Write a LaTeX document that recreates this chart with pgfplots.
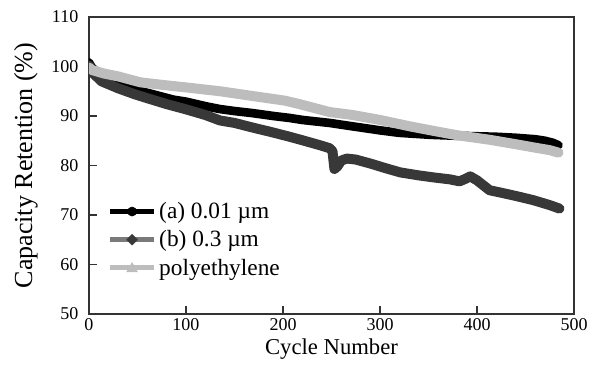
\documentclass[border=0pt]{standalone}
\usepackage{fontspec}
\setmainfont{Liberation Serif}
\usepackage{pgfplots}
\pgfplotsset{compat=1.18}
\definecolor{cA}{HTML}{000000}
\definecolor{cB}{HTML}{383838}
\definecolor{cBl}{HTML}{7A7A7A}
\definecolor{cC}{HTML}{BDBDBD}
\begin{document}
\begin{tikzpicture}
\useasboundingbox (-66.75pt,-48pt) rectangle (387pt,235.5pt);
\begin{axis}[
  scale only axis,
  width=363.75pt, height=222.75pt,
  xmin=0, xmax=500, ymin=50, ymax=110,
  xtick={0,100,...,500}, ytick={50,60,...,110},
  axis line style={draw=black!80, line width=0.8pt},
  tick style={draw=black!80, line width=0.8pt},
  tick align=inside, major tick length=6pt,
  xtick pos=bottom, ytick pos=left,
  /pgf/number format/assume math mode=true,
  ticklabel style={font=\fontsize{13.5}{15}\selectfont},
  yticklabel style={xshift=-4.5pt},
  xlabel={Cycle Number}, ylabel={Capacity Retention (\%)},
  xlabel style={font=\fontsize{17}{19}\selectfont, at={(axis description cs:0.5,-0.118)}, anchor=center},
  ylabel style={font=\fontsize{19.5}{21}\selectfont, at={(axis description cs:-0.13,0.5)}, anchor=center},
  legend cell align=left,
  legend style={at={(rel axis cs:0.035,0.39)}, anchor=north west, draw=none, fill=none,
    font=\fontsize{17.5}{20}\selectfont, row sep=3.5pt, inner sep=1pt},
]
\addplot[forget plot, color=cA, line width=6.5pt, line join=round, line cap=round] coordinates {
(0,100.8)(3,99.8)(10,98.6)(20,97.4)(30,96.5)(45,95.5)(60,94.7)(87,93.3)(100,92.9)(122,91.9)(135,91.4)(150,91.0)(168,90.6)(190,90.0)(207,89.6)(220,89.2)(248,88.6)(272,87.9)(300,87.1)(320,86.6)(352,86.2)(380,86.0)(400,85.9)(420,85.8)(440,85.6)(460,85.3)(470,85.0)(478,84.6)(484,84.1)
};
\addplot[forget plot, color=cB, line width=7.5pt, line join=round, line cap=round] coordinates {
(0,100.2)(5,98.5)(13,97.0)(30,95.6)(47,94.4)(60,93.6)(80,92.4)(99,91.4)(120,90.2)(135,89.1)(150,88.6)(170,87.6)(187,86.8)(205,85.9)(220,85.1)(238,84.1)(248,83.5)(251,82.9)(253,79.3)(256,79.8)(260,81.0)(266,81.4)(275,81.2)(290,80.4)(305,79.5)(321,78.6)(340,78.0)(355,77.6)(372,77.2)(382,76.8)(388,77.3)(393,77.8)(400,77.0)(413,75.0)(425,74.5)(441,73.8)(458,73.0)(475,72.0)(485,71.3)
};
\addplot[forget plot, color=cC, line width=7.5pt, line join=round, line cap=round] coordinates {
(0,99.8)(3,99.3)(15,98.6)(30,98.0)(53,96.8)(75,96.3)(99,95.8)(135,95.0)(170,94.0)(202,93.1)(217,92.4)(248,90.8)(272,90.2)(300,89.2)(331,87.9)(355,87.0)(380,86.1)(413,85.2)(440,84.3)(460,83.6)(475,83.1)(484,82.6)
};
\addlegendimage{legend image code/.code={
  \draw[cA, line width=3.75pt] (0pt,0pt) -- (33pt,0pt);
  \fill[cA] (16.5pt,0pt) circle (3.4pt);}}
\addlegendentry{(a) 0.01 µm}
\addlegendimage{legend image code/.code={
  \draw[cBl, line width=3.75pt] (0pt,0pt) -- (33pt,0pt);
  \fill[cB] (16.5pt,4pt) -- (20.5pt,0pt) -- (16.5pt,-4pt) -- (12.5pt,0pt) -- cycle;}}
\addlegendentry{(b) 0.3 µm}
\addlegendimage{legend image code/.code={
  \draw[cC, line width=3.75pt] (0pt,0pt) -- (33pt,0pt);
  \fill[cC] (16.5pt,4pt) -- (20.5pt,-3pt) -- (12.5pt,-3pt) -- cycle;}}
\addlegendentry{polyethylene}
\end{axis}
\end{tikzpicture}
\end{document}
